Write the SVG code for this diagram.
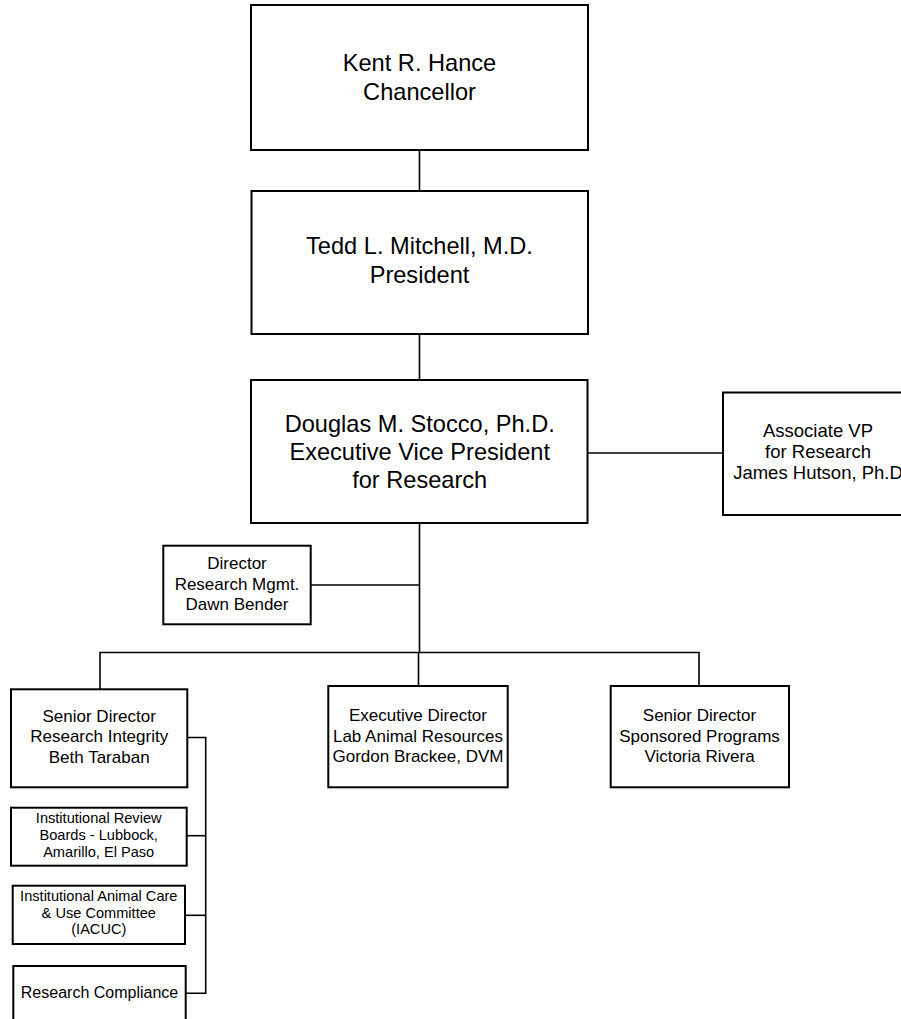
<svg xmlns="http://www.w3.org/2000/svg" width="901" height="1019" viewBox="0 0 901 1019">
<style>
rect{fill:#fff;stroke:#000;stroke-width:2}
.c line,.c polyline{stroke:#000;stroke-width:1.6;fill:none}
text{font-family:"Liberation Sans",Arial,sans-serif;fill:#000;text-anchor:middle}
.big{font-size:23.6px}
.mid{font-size:17px}
.sm{font-size:14.6px}
.avp{font-size:18.5px}
</style>
<rect x="0" y="0" width="901" height="1019" style="fill:#fff;stroke:none"/>
<g class="c" id="connectors">
<line x1="419.5" y1="150" x2="419.5" y2="191"/>
<line x1="419.5" y1="334" x2="419.5" y2="380"/>
<line x1="588" y1="453" x2="723" y2="453"/>
<line x1="419.5" y1="523" x2="419.5" y2="652.5"/>
<line x1="311" y1="585" x2="419.5" y2="585"/>
<polyline points="100,689 100,652.5 699,652.5 699,686"/>
<line x1="418.5" y1="652.5" x2="418.5" y2="686"/>
<polyline points="187,737.5 205.7,737.5 205.7,993.3 186,993.3"/>
<line x1="187" y1="835.7" x2="205.7" y2="835.7"/>
<line x1="185" y1="915.3" x2="205.7" y2="915.3"/>
</g>
<g id="chancellor">
<rect x="251" y="5" width="337" height="145"/>
<text class="big" x="419.5" y="70.5">Kent R. Hance</text>
<text class="big" x="419.5" y="99.5">Chancellor</text>
</g>
<g id="president">
<rect x="251.5" y="191" width="336.5" height="143"/>
<text class="big" x="419.5" y="254">Tedd L. Mitchell, M.D.</text>
<text class="big" x="419.5" y="283">President</text>
</g>
<g id="evp">
<rect x="251" y="380" width="336.5" height="143"/>
<text class="big" x="419.7" y="431.7">Douglas M. Stocco, Ph.D.</text>
<text class="big" x="419.7" y="460">Executive Vice President</text>
<text class="big" x="419.7" y="487.7">for Research</text>
</g>
<g id="avp">
<rect x="723" y="392.5" width="200" height="122.5"/>
<text class="avp" x="818" y="437">Associate VP</text>
<text class="avp" x="818" y="458">for Research</text>
<text class="avp" x="818" y="479">James Hutson, Ph.D</text>
</g>
<g id="director-rm">
<rect x="163.3" y="545.7" width="147.4" height="78.6"/>
<text class="mid" x="237" y="569">Director</text>
<text class="mid" x="237" y="590">Research Mgmt.</text>
<text class="mid" x="237" y="610">Dawn Bender</text>
</g>
<g id="research-integrity">
<rect x="11" y="689.3" width="176.3" height="98"/>
<text class="mid" x="99.2" y="721.7">Senior Director</text>
<text class="mid" x="99.2" y="742.3">Research Integrity</text>
<text class="mid" x="99.2" y="763.3">Beth Taraban</text>
</g>
<g id="lab-animal">
<rect x="328.3" y="686" width="179.4" height="101.3"/>
<text class="mid" x="418" y="721">Executive Director</text>
<text class="mid" x="418" y="741.7">Lab Animal Resources</text>
<text class="mid" x="418" y="761.7">Gordon Brackee, DVM</text>
</g>
<g id="sponsored-programs">
<rect x="610.7" y="686" width="178.3" height="101.3"/>
<text class="mid" x="699.5" y="721">Senior Director</text>
<text class="mid" x="699.5" y="741.7">Sponsored Programs</text>
<text class="mid" x="699.5" y="761.7">Victoria Rivera</text>
</g>
<g id="irb">
<rect x="11" y="807.7" width="175.7" height="58"/>
<text class="sm" x="98.7" y="823.3">Institutional Review</text>
<text class="sm" x="98.7" y="840">Boards - Lubbock,</text>
<text class="sm" x="98.7" y="857.3">Amarillo, El Paso</text>
</g>
<g id="iacuc">
<rect x="12.7" y="885.7" width="172.3" height="58.3"/>
<text class="sm" x="98.8" y="901">Institutional Animal Care</text>
<text class="sm" x="98.8" y="917.7">&amp; Use Committee</text>
<text class="sm" x="98.8" y="934.3">(IACUC)</text>
</g>
<g id="research-compliance">
<rect x="13.3" y="966" width="172.4" height="70"/>
<text style="font-size:16px" x="99.5" y="997.7">Research Compliance</text>
</g>
</svg>
